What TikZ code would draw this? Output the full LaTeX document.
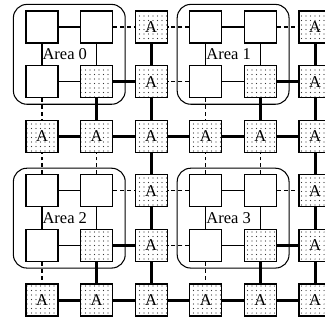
\documentclass[tikz,border=0pt]{standalone}
\usepackage{fontspec}
\setmainfont{Liberation Serif}
\usetikzlibrary{patterns,fit}

\pgfdeclarepatternformonly{finedots}{\pgfqpoint{-0.5pt}{-0.5pt}}{\pgfqpoint{0.5pt}{0.5pt}}{\pgfqpoint{3pt}{3pt}}{\pgfpathcircle{\pgfqpoint{0pt}{0pt}}{0.38pt}\pgfusepath{fill}}

\tikzset{
    plainbox/.style={draw, line width=0.85pt, minimum size=21.3pt, inner sep=0pt},
    dotbox/.style={plainbox, pattern=finedots, pattern color=black!80},
    abox/.style={dotbox},
    link/.style={line width=0.7pt},
    weak/.style={line width=0.7pt, dash pattern=on 2.6pt off 2pt},
    trunk/.style={line width=2pt},
    areabox/.style={draw, line width=0.7pt, rounded corners=9pt, inner xsep=8pt, inner ysep=4pt}
}

\begin{document}
\begin{tikzpicture}
        [x=36.4pt, y=36.4pt, font=\fontsize{11}{13}\selectfont]
        \path[use as bounding box, clip] (-0.769, 0.495) rectangle (5.183, -5.403);
        % A 节点
        \foreach \r in {0,1,3,4}
            \foreach \c in {2,5}
                \node[abox] (a-\r-\c) at (\c, -\r) {A};
        \foreach \r in {2,5}
            \foreach \c in {0,...,5}
                \node[abox] (a-\r-\c) at (\c, -\r) {A};
        % 主干
        \foreach \c in {2,5}
            \draw[trunk] (a-0-\c) -- (a-1-\c) -- (a-2-\c) -- (a-3-\c) -- (a-4-\c) -- (a-5-\c);
        \foreach \r in {2,5}
            \draw[trunk] (a-\r-0) -- (a-\r-1) -- (a-\r-2) -- (a-\r-3) -- (a-\r-4) -- (a-\r-5);
        % 四个区域
        \foreach \k/\ox/\oy [evaluate=\ox as \cb using int(\ox+1),
                evaluate=\ox as \cc using int(\ox+2),
                evaluate=\oy as \rb using int(\oy+1),
                evaluate=\oy as \rc using int(\oy+2)]
                in {0/0/0, 1/3/0, 2/0/3, 3/3/3}{
            \node[plainbox] (area\k-tl) at (\ox, -\oy) {};
            \node[plainbox] (area\k-tr) at (\cb, -\oy) {};
            \node[plainbox] (area\k-bl) at (\ox, -\rb) {};
            \node[dotbox] (area\k-br) at (\cb, -\rb) {};
            \node[areabox, fit=(area\k-tl)(area\k-br)] (area\k) {};
            \draw[link] (area\k-tl) -- (area\k-tr);
            \draw[link] (area\k-bl) -- (area\k-br);
            \draw[link] (area\k-tl) -- (area\k-bl);
            \draw[link] (area\k-tr) -- (area\k-br);
            \node at ([xshift=-3pt]area\k.center) {Area \k};
            \draw[weak] (area\k-tr) -- (a-\oy-\cc);
            \draw[weak] (area\k-bl) -- (a-\rc-\ox);
            \draw[trunk] (area\k-br) -- (a-\rb-\cc);
            \draw[trunk] (area\k-br) -- (a-\rc-\cb);
        }
        % 左边和上边的虚线
        \draw[weak] (area1-tl) -- (a-0-2);
        \draw[weak] (area1-bl) -- (a-1-2);
        \draw[weak] (area3-tl) -- (a-3-2);
        \draw[weak] (area3-bl) -- (a-4-2);
        \draw[weak] (area2-tl) -- (a-2-0);
        \draw[weak] (area2-tr) -- (a-2-1);
        \draw[weak] (area3-tl) -- (a-2-3);
        \draw[weak] (area3-tr) -- (a-2-4);
    \end{tikzpicture}
\end{document}
